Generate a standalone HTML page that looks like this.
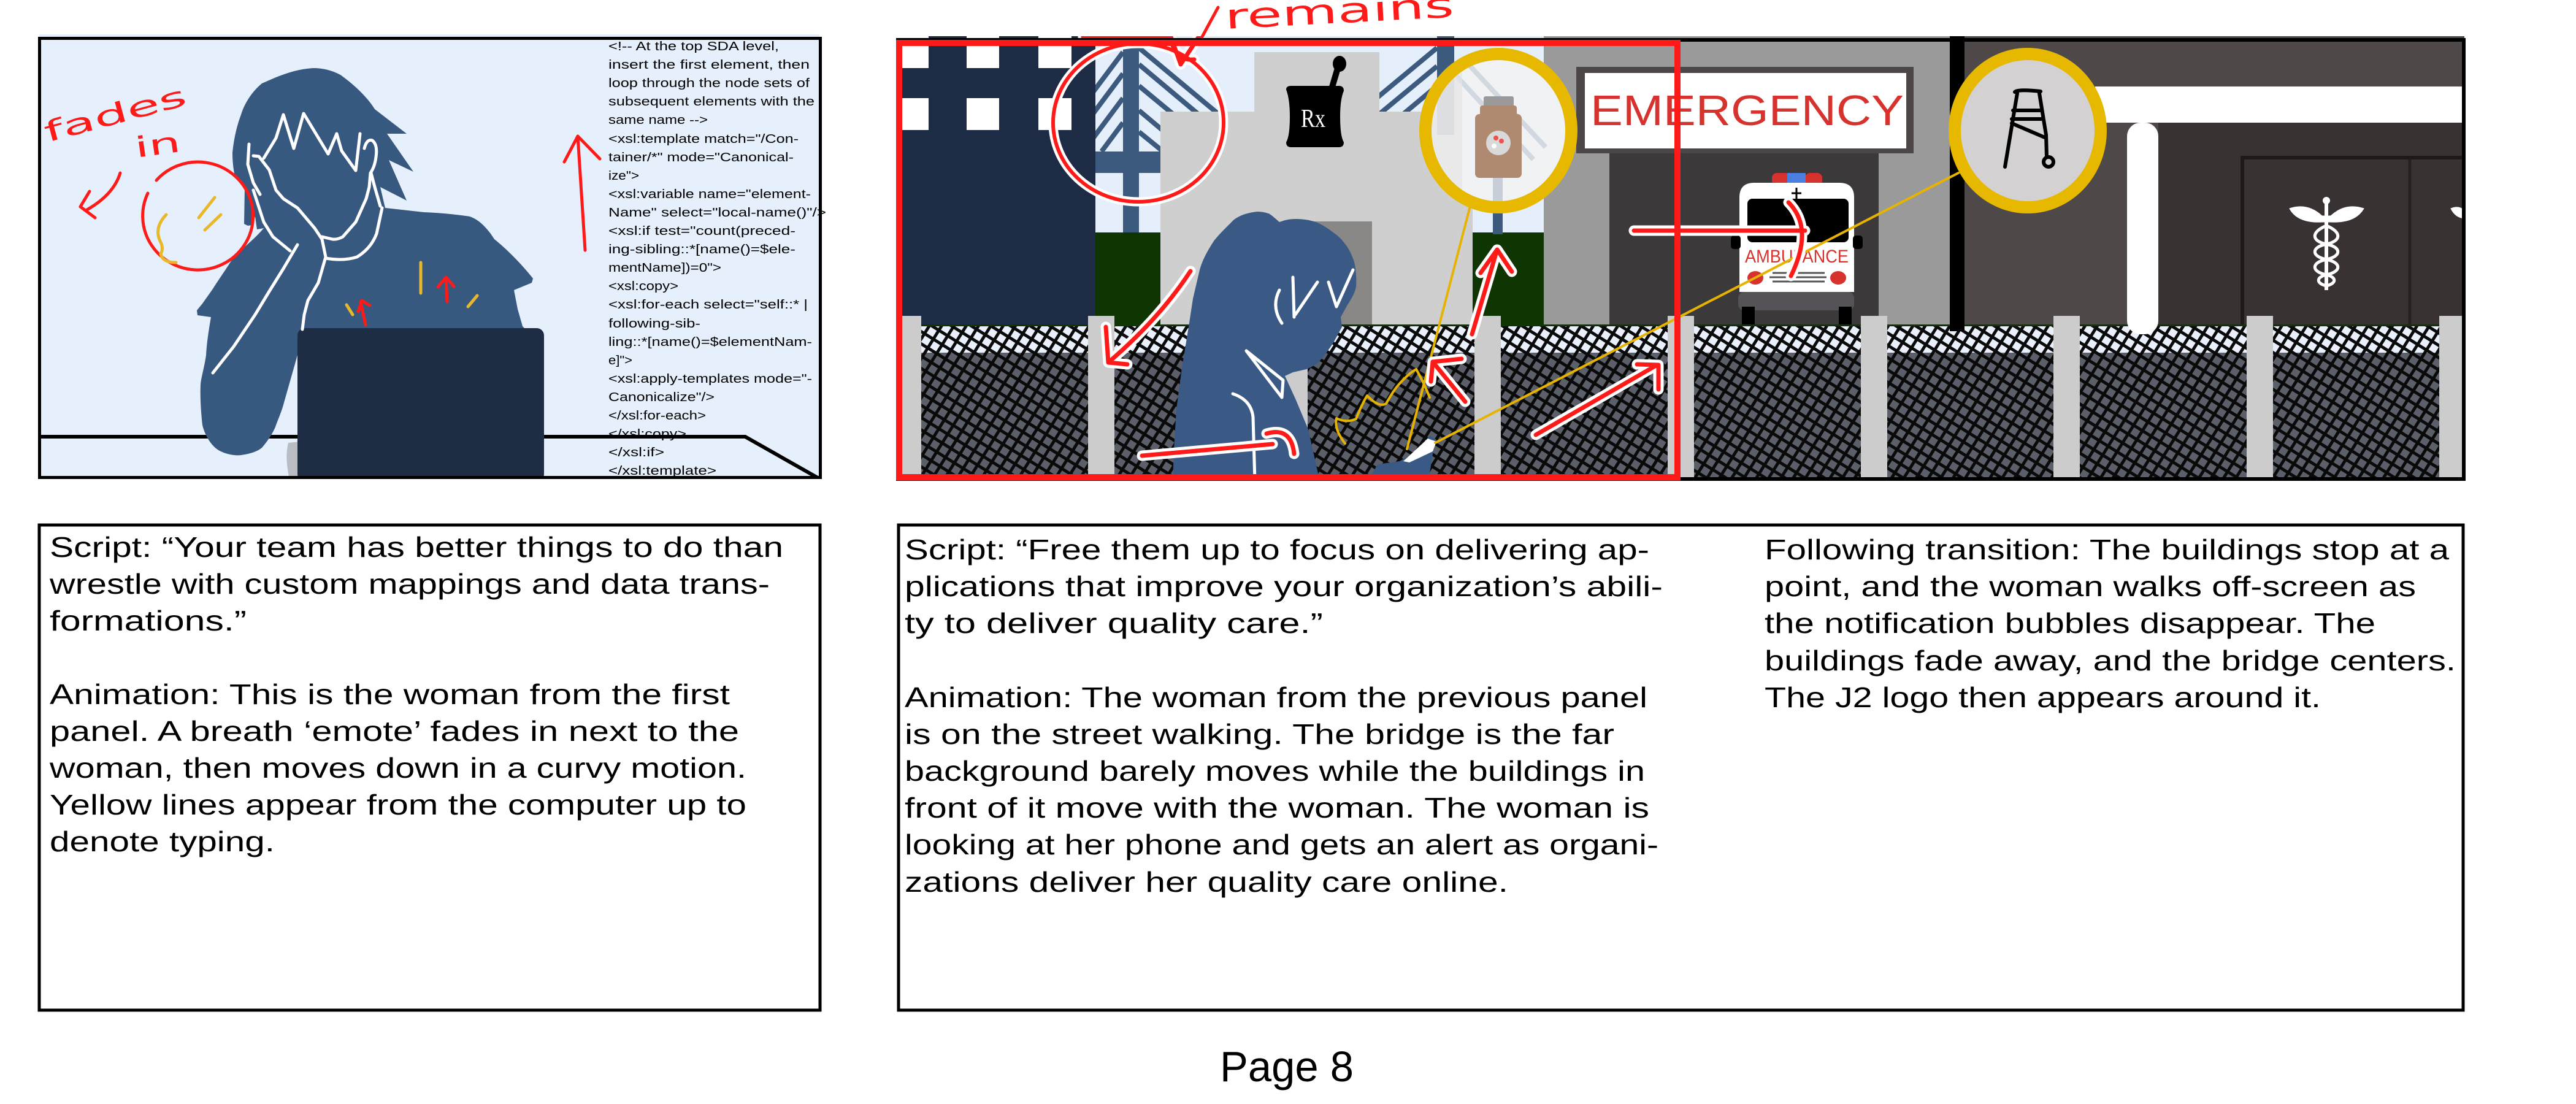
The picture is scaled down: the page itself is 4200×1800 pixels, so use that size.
<!DOCTYPE html>
<html><head><meta charset="utf-8"><style>
html,body{margin:0;padding:0;background:#fff;}
svg{display:block}
text{font-family:"Liberation Sans","DejaVu Sans",sans-serif;}
.d{font-size:46px;fill:#000}
.c{font-size:20px;fill:#000}
</style></head><body>
<svg width="4200" height="1800" viewBox="0 0 4200 1800" xmlns="http://www.w3.org/2000/svg">
<defs>
 <pattern id="hl" width="17" height="17" patternUnits="userSpaceOnUse" patternTransform="rotate(32)">
  <rect width="17" height="17" fill="#e9f0fc"/>
  <rect width="17" height="5" fill="#0a0a0a"/>
  <rect width="5" height="17" fill="#0a0a0a"/>
 </pattern>
 <pattern id="hd" width="17" height="17" patternUnits="userSpaceOnUse" patternTransform="rotate(32)">
  <rect width="17" height="17" fill="#5b5f69"/>
  <rect width="17" height="5" fill="#0a0a0a"/>
  <rect width="5" height="17" fill="#0a0a0a"/>
 </pattern>
 <clipPath id="cpL"><rect x="62" y="60" width="1277" height="720"/></clipPath>
 <clipPath id="cpR"><rect x="1461" y="59" width="2557" height="724"/></clipPath>
 <clipPath id="cpM"><ellipse cx="2443" cy="213" rx="119" ry="125"/></clipPath>
</defs>

<!-- ================= LEFT PANEL ================= -->
<rect x="64" y="56" width="1272" height="724" fill="#e6effc"/>
<g clip-path="url(#cpL)">
 <polyline points="62,712 1215,712 1335,780" fill="none" stroke="#000" stroke-width="6"/>
 <path d="M470,722 Q464,745 472,782 L490,782 L490,720 Z" fill="#b9bcc2"/>
 <path fill="#37587f" d="M511,111 C490,112 470,118 450,126 L427,136 C410,150 398,170 393,187 C386,205 381,228 379,249 C379,265 381,280 384,291 L399,305 L398,365 L404,368 L411,367 L416,353 L419,374 L430,372 C415,390 395,405 381,419 C368,440 357,455 347,471 L330,495 L321,506 L322,514 L344,517 C340,540 337,560 336,579 C333,600 328,615 327,627 C326,650 328,675 330,693 C334,710 345,728 358,735 C372,742 385,743 393,742 C408,740 420,736 427,730 C440,715 448,700 450,693 C455,680 460,668 462,660 L485,579 L490,560 L880,560 L852,532 L844,504 L838,473 L867,461 L869,454 C850,430 825,405 806,390 L800,381 C790,368 780,358 766,353 C740,349 715,347 691,346 L628,339 L620,305 L663,327 L634,261 L674,280 L631,218 L663,218 L611,178 C600,160 580,140 555,122 C540,114 525,111 511,111 Z"/>
 <rect x="485" y="535" width="402" height="250" rx="12" fill="#1e2c44"/>
 <g fill="none" stroke="#fff" stroke-width="5" stroke-linecap="round" stroke-linejoin="round">
  <path d="M430,258 L450,225 L462,187 L479,242 L495,185 L535,251 L549,218 L557,246 L580,278 L587,218"/>
  <path d="M594,242 Q598,226 607,229 Q616,236 613,256 Q611,272 604,282 L602,305 L597,324 L580,362 L559,386 Q550,391 542,390 L525,386"/>
  <path d="M406,235 L404,268 L413,298 L424,317"/>
  <path d="M413,254 L422,255 L439,277 L450,310 L462,324 L485,339 L513,372 L525,390 L531,419 L519,461 L502,490 L496,513 L493,537"/>
  <path d="M531,421 Q560,426 582,419 Q605,405 614,381 L620,353 L623,339"/>
  <path d="M413,310 L430,362 L445,386 L473,409"/>
  <path d="M485,399 L462,438 L439,475 L416,513 L381,565 L347,608"/>
  <path d="M605,282 L611,305 L620,336"/>
 </g>
 <!-- annotations -->
 <text x="77" y="232" font-size="46" fill="#ff1a1a" textLength="238" lengthAdjust="spacingAndGlyphs" transform="rotate(-15 77 232)" style="font-family:'DejaVu Sans',sans-serif">fades</text>
 <text x="222" y="257" font-size="46" fill="#ff1a1a" textLength="75" lengthAdjust="spacingAndGlyphs" transform="rotate(-8 222 257)" style="font-family:'DejaVu Sans',sans-serif">in</text>
 <g fill="none" stroke="#ff1a1a" stroke-width="5" stroke-linecap="round" stroke-linejoin="round">
  <path d="M196,282 Q185,318 140,343"/>
  <path d="M146,312 L131,337 L155,355"/>
  <path d="M255,294 A90 88 0 1 1 241,315"/>
  <path d="M596,530 L588,492"/><path d="M584,508 L590,490 L603,498"/>
  <path d="M729,492 L727,453"/><path d="M714,468 L727,452 L740,467"/>
  <path d="M954,408 L942,222"/><path d="M920,264 L942,222 L978,259"/>
 </g>
 <g fill="none" stroke="#e8b828" stroke-width="5" stroke-linecap="round">
  <path d="M271,350 Q250,372 262,395 Q267,405 262,414 Q265,428 287,428"/>
  <path d="M350,322 L324,355"/><path d="M360,350 L334,375"/>
  <path d="M686,428 L686,478"/><path d="M565,497 L575,513"/><path d="M778,482 L763,500"/>
 </g>
</g>
<g class="c">
 <text class="c" x="992" y="82" textLength="278" lengthAdjust="spacingAndGlyphs">&lt;!-- At the top SDA level,</text>
 <text class="c" x="992" y="112" textLength="328" lengthAdjust="spacingAndGlyphs">insert the first element, then</text>
 <text class="c" x="992" y="142" textLength="328" lengthAdjust="spacingAndGlyphs">loop through the node sets of</text>
 <text class="c" x="992" y="172" textLength="336" lengthAdjust="spacingAndGlyphs">subsequent elements with the</text>
 <text class="c" x="992" y="202" textLength="162" lengthAdjust="spacingAndGlyphs">same name --&gt;</text>
 <text class="c" x="992" y="233" textLength="310" lengthAdjust="spacingAndGlyphs">&lt;xsl:template match="/Con-</text>
 <text class="c" x="992" y="263" textLength="302" lengthAdjust="spacingAndGlyphs">tainer/*" mode="Canonical-</text>
 <text class="c" x="992" y="293" textLength="50" lengthAdjust="spacingAndGlyphs">ize"&gt;</text>
 <text class="c" x="992" y="323" textLength="330" lengthAdjust="spacingAndGlyphs">&lt;xsl:variable name="element-</text>
 <text class="c" x="992" y="353" textLength="355" lengthAdjust="spacingAndGlyphs">Name" select="local-name()"/&gt;</text>
 <text class="c" x="992" y="383" textLength="305" lengthAdjust="spacingAndGlyphs">&lt;xsl:if test="count(preced-</text>
 <text class="c" x="992" y="413" textLength="305" lengthAdjust="spacingAndGlyphs">ing-sibling::*[name()=$ele-</text>
 <text class="c" x="992" y="443" textLength="184" lengthAdjust="spacingAndGlyphs">mentName])=0"&gt;</text>
 <text class="c" x="992" y="473" textLength="114" lengthAdjust="spacingAndGlyphs">&lt;xsl:copy&gt;</text>
 <text class="c" x="992" y="503" textLength="325" lengthAdjust="spacingAndGlyphs">&lt;xsl:for-each select="self::* |</text>
 <text class="c" x="992" y="534" textLength="150" lengthAdjust="spacingAndGlyphs">following-sib-</text>
 <text class="c" x="992" y="564" textLength="332" lengthAdjust="spacingAndGlyphs">ling::*[name()=$elementNam-</text>
 <text class="c" x="992" y="594" textLength="39" lengthAdjust="spacingAndGlyphs">e]"&gt;</text>
 <text class="c" x="992" y="624" textLength="332" lengthAdjust="spacingAndGlyphs">&lt;xsl:apply-templates mode="-</text>
 <text class="c" x="992" y="654" textLength="173" lengthAdjust="spacingAndGlyphs">Canonicalize"/&gt;</text>
 <text class="c" x="992" y="684" textLength="159" lengthAdjust="spacingAndGlyphs">&lt;/xsl:for-each&gt;</text>
 <text class="c" x="992" y="714" textLength="127" lengthAdjust="spacingAndGlyphs">&lt;/xsl:copy&gt;</text>
 <text class="c" x="992" y="744" textLength="91" lengthAdjust="spacingAndGlyphs">&lt;/xsl:if&gt;</text>
 <text class="c" x="992" y="774" textLength="176" lengthAdjust="spacingAndGlyphs">&lt;/xsl:template&gt;</text>
</g>
<rect x="64.5" y="62.5" width="1273" height="716" fill="none" stroke="#000" stroke-width="5"/>

<!-- ================= RIGHT PANEL ================= -->
<g clip-path="url(#cpR)">
 <rect x="1461" y="59" width="2557" height="724" fill="#e5eefb"/>
 <!-- bridge -->
 <g stroke="#3b5a7e" stroke-width="8">
  <line x1="1831" y1="85" x2="1741" y2="205"/>
  <line x1="1831" y1="120" x2="1751" y2="227"/>
  <line x1="1831" y1="160" x2="1766" y2="247"/>
  <line x1="1831" y1="200" x2="1796" y2="247"/>
  <line x1="1857" y1="78" x2="2060" y2="247"/>
  <line x1="1857" y1="105" x2="2030" y2="250"/>
  <line x1="1857" y1="140" x2="1990" y2="250"/>
  <line x1="1857" y1="180" x2="1940" y2="250"/>
  <line x1="1857" y1="215" x2="1900" y2="250"/>
  <line x1="2343" y1="78" x2="2200" y2="197"/>
  <line x1="2343" y1="108" x2="2220" y2="210"/>
  <line x1="2343" y1="140" x2="2240" y2="226"/>
  <line x1="2343" y1="172" x2="2280" y2="225"/>
 </g>
 <rect x="1831" y="59" width="26" height="320" fill="#3b5a7e"/>
 <rect x="1786" y="247" width="110" height="35" fill="#3b5a7e"/>
 <rect x="2343" y="59" width="28" height="130" fill="#3b5a7e"/>
 <!-- navy building -->
 <rect x="1461" y="59" width="325" height="475" fill="#1e2b45"/>
 <g fill="#fff">
  <rect x="1461" y="59" width="53" height="52"/><rect x="1576" y="59" width="53" height="52"/><rect x="1693" y="59" width="54" height="52"/>
  <rect x="1461" y="160" width="53" height="52"/><rect x="1576" y="160" width="53" height="52"/><rect x="1693" y="160" width="54" height="52"/>
 </g>
 <!-- pharmacy -->
 <rect x="2045" y="85" width="204" height="100" fill="#cfcfcf"/>
 <rect x="1892" y="182" width="509" height="350" fill="#cfcfcf"/>
 <rect x="2137" y="361" width="100" height="171" fill="#8a8887"/>
 <path d="M2097,146 Q2097,140 2105,140 L2183,140 Q2191,140 2191,148 Q2185,162 2185,190 Q2185,222 2191,232 Q2191,240 2183,240 L2105,240 Q2097,240 2097,232 Q2103,222 2103,190 Q2103,162 2097,146 Z" fill="#000"/>
 <line x1="2171" y1="145" x2="2182" y2="108" stroke="#000" stroke-width="10"/>
 <ellipse cx="2184" cy="104" rx="11" ry="13" fill="#000"/>
 <text x="2121" y="207" font-size="42" fill="#fff" textLength="40" lengthAdjust="spacingAndGlyphs" style="font-family:'Liberation Serif',serif">Rx</text>
 <rect x="1786" y="379" width="106" height="153" fill="#0e3502"/>
 <rect x="2401" y="379" width="116" height="153" fill="#0e3502"/>
 <rect x="2434" y="330" width="16" height="52" fill="#3b5a7e"/>
 <!-- emergency building -->
 <rect x="2517" y="59" width="662" height="473" fill="#9a9a9a"/>
 <rect x="2570" y="109" width="550" height="141" fill="#4d4646"/>
 <rect x="2584" y="119" width="524" height="123" fill="#fff"/>
 <text x="2593" y="204" font-size="70" fill="#d7332e" textLength="511" lengthAdjust="spacingAndGlyphs">EMERGENCY</text>
 <rect x="2624" y="250" width="439" height="282" fill="#3b3939"/>
 <!-- ambulance -->
 <rect x="2889" y="282" width="30" height="20" rx="8" fill="#d7332e"/>
 <rect x="2943" y="282" width="28" height="20" rx="8" fill="#d7332e"/>
 <rect x="2914" y="282" width="30" height="20" fill="#4a7fe0"/>
 <path d="M2836,476 L2836,322 Q2836,298 2860,298 L2999,298 Q3023,298 3023,322 L3023,476 Z" fill="#fff"/>
 <rect x="2849" y="324" width="165" height="71" rx="8" fill="#000"/>
 <path d="M2929,306 V324 M2921,315 H2937" stroke="#000" stroke-width="3"/>
 <rect x="2822" y="384" width="16" height="22" rx="5" fill="#000"/>
 <rect x="3021" y="384" width="16" height="22" rx="5" fill="#000"/>
 <text x="2845" y="428" font-size="30" fill="#d7332e" textLength="169" lengthAdjust="spacingAndGlyphs">AMBULANCE</text>
 <ellipse cx="2862" cy="453" rx="13" ry="11" fill="#d7332e"/>
 <ellipse cx="2997" cy="453" rx="13" ry="11" fill="#d7332e"/>
 <path d="M2890,445 H2975 M2885,452 H2978 M2890,459 H2975" stroke="#555" stroke-width="3"/>
 <rect x="2834" y="476" width="189" height="30" rx="10" fill="#555357"/>
 <rect x="2840" y="500" width="21" height="30" fill="#000"/>
 <rect x="2998" y="500" width="21" height="30" fill="#000"/>
 <!-- right building -->
 <rect x="3203" y="59" width="815" height="473" fill="#4e4848"/>
 <rect x="3416" y="141" width="602" height="59" fill="#fff"/>
 <rect x="3519" y="200" width="499" height="332" fill="#383232"/>
 <path d="M3656,532 V257 H4018" stroke="#1e1a1a" stroke-width="6" fill="none"/>
 <line x1="3929" y1="260" x2="3929" y2="532" stroke="#262121" stroke-width="5"/>
 <g fill="#fff" stroke="#fff">
  <path d="M3733,340 Q3762,330 3786,352 L3800,352 Q3824,330 3854,340 Q3840,364 3800,362 L3786,362 Q3746,364 3733,340 Z" stroke-width="1"/>
  <rect x="3790" y="325" width="6" height="148" stroke-width="0"/>
  <circle cx="3793" cy="327" r="6" stroke-width="0"/>
  <path d="M3793,368 C3768,378 3768,393 3793,398 C3818,403 3818,418 3793,423 C3768,428 3768,443 3793,448 C3810,452 3810,462 3793,466" fill="none" stroke-width="5"/>
  <path d="M3793,368 C3818,378 3818,393 3793,398 C3768,403 3768,418 3793,423 C3818,428 3818,443 3793,448 C3776,452 3776,462 3793,466" fill="none" stroke-width="5"/>
  <path d="M3996,340 Q4010,334 4020,345 L4020,356 Q4004,356 3996,340 Z" stroke-width="1"/>
 </g>
 <!-- ground -->
 <rect x="1461" y="529" width="2557" height="4" fill="#0e3502"/>
 <rect x="1461" y="532" width="2557" height="43" fill="url(#hl)"/>
 <rect x="1461" y="575" width="2557" height="208" fill="url(#hd)"/>
 <rect x="3179" y="59" width="24" height="481" fill="#000"/>
 <rect x="3468" y="200" width="51" height="345" rx="22" fill="#fff"/>
 <g fill="#cccccc">
  <rect x="1459" y="515" width="43" height="268"/>
  <rect x="1774" y="515" width="43" height="268"/>
  <rect x="2089" y="515" width="43" height="268"/>
  <rect x="2404" y="515" width="43" height="268"/>
  <rect x="2719" y="515" width="43" height="268"/>
  <rect x="3034" y="515" width="43" height="268"/>
  <rect x="3348" y="515" width="43" height="268"/>
  <rect x="3663" y="515" width="43" height="268"/>
  <rect x="3977" y="515" width="43" height="268"/>
 </g>
 <!-- woman -->
 <path fill="#3a5a85" d="M2050,345 C2030,347 2015,354 2008,362 C1995,375 1985,385 1979,393 C1968,410 1960,425 1956,440 L1945,487 L1938,533 L1927,600 L1918,667 L1914,733 L1912,785 L2152,785 L2133,700 L2112,650 L2095,613 L2108,607 L2130,602 C2140,598 2148,593 2153,587 C2163,575 2170,565 2175,557 L2188,533 L2186,517 L2197,497 C2205,485 2210,475 2211,467 C2212,450 2210,435 2208,427 C2204,415 2200,408 2197,403 C2190,393 2183,385 2175,380 C2165,372 2155,366 2148,363 C2135,358 2122,357 2112,357 C2100,357 2092,360 2086,362 C2078,355 2070,348 2068,348 C2062,346 2056,345 2050,345 Z"/>
 <path fill="#3a5a85" d="M2230,785 L2246,757 L2282,752 L2310,735 L2331,710 L2342,717 L2336,740 L2329,785 Z"/>
 <path fill="#fff" d="M2288,752 L2328,715 L2342,720 L2336,736 L2298,754 Z"/>
 <g fill="none" stroke="#fff" stroke-width="5" stroke-linecap="round" stroke-linejoin="round">
  <path d="M2090,527 Q2072,500 2086,473"/>
  <path d="M2108,452 L2110,517"/>
  <path d="M2112,513 L2148,460"/>
  <path d="M2166,460 L2179,500 L2206,440"/>
  <path d="M2032,572 L2092,620 L2090,648 Z"/>
  <path d="M2010,642 Q2040,652 2043,680 L2046,785"/>
 </g>
 <!-- gold circles -->
 <ellipse cx="2443" cy="213" rx="119" ry="125" fill="#f1f2f4"/>
 <g clip-path="url(#cpM)" stroke="#d2d8e0" stroke-width="8">
  <line x1="2371" y1="80" x2="2520" y2="240"/>
  <line x1="2371" y1="120" x2="2500" y2="260"/>
  <line x1="2343" y1="100" x2="2250" y2="200"/>
  <rect x="2343" y="70" width="28" height="150" fill="#c8ced8" stroke="none"/>
  <rect x="2434" y="290" width="16" height="60" fill="#c8ced8" stroke="none"/>
  <rect x="2324" y="80" width="60" height="270" fill="#e6e6e6" stroke="none" opacity="0.7"/>
 </g>
 <rect x="2419" y="157" width="49" height="18" rx="3" fill="#9a9a9a"/>
 <rect x="2405" y="186" width="76" height="104" rx="7" fill="#b08a70"/>
 <rect x="2413" y="172" width="60" height="18" rx="4" fill="#b08a70"/>
 <circle cx="2443" cy="233" r="20" fill="#d9d9d9"/>
 <circle cx="2439" cy="225" r="4" fill="#f05050"/>
 <circle cx="2448" cy="230" r="4" fill="#f05050"/>
 <circle cx="2436" cy="238" r="4" fill="#fff"/>
 <ellipse cx="2443" cy="213" rx="119" ry="125" fill="none" stroke="#e6b800" stroke-width="20"/>
 <ellipse cx="3306" cy="213" rx="119" ry="125" fill="#d3d1d2" stroke="#e6b800" stroke-width="20"/>
 <g fill="none" stroke="#000" stroke-width="6" stroke-linecap="round">
  <path d="M3285,150 Q3290,145 3327,149"/>
  <path d="M3289,152 L3269,272"/>
  <path d="M3325,152 L3336,220 L3337,256"/>
  <path d="M3282,180 L3327,180 M3280,194 L3328,194 M3280,201 L3336,225"/>
  <circle cx="3340" cy="264" r="8"/>
 </g>
 <!-- yellow lines -->
 <g fill="none" stroke="#e6b400" stroke-width="4" stroke-linecap="round" stroke-linejoin="round">
  <path d="M2396,340 L2294,732"/>
  <path d="M2193,723 Q2175,700 2179,682 Q2195,690 2211,683 Q2220,660 2229,645 Q2248,665 2260,658 Q2270,640 2278,630 Q2295,610 2309,602 Q2322,625 2331,648"/>
  <path d="M2340,722 L3193,282"/>
 </g>
 <!-- red annotations with white outline -->
 <g fill="none" stroke="#fff" stroke-width="17" stroke-linecap="round" stroke-linejoin="round">
  <ellipse cx="1856" cy="200" rx="139" ry="129" stroke-width="15"/>
  <path d="M1941,442 Q1890,520 1807,591 M1803,533 L1807,591 L1838,594"/>
  <path d="M1862,743 L2075,724 M2065,707 Q2105,695 2110,740"/>
  <path d="M2389,655 L2336,590 M2333,622 L2336,590 L2383,585"/>
  <path d="M2400,545 L2441,407 M2414,445 L2441,407 L2465,443"/>
  <path d="M2504,709 L2700,596 M2669,594 L2704,595 L2704,635"/>
  <path d="M2664,376 L2943,376 M2916,330 Q2958,372 2920,450"/>
  <path d="M1766,60 L1909,60 L1925,105 L1986,12 M1909,62 Q1915,100 1947,97"/>
 </g>
 <g fill="none" stroke="#ff1a1a" stroke-width="7" stroke-linecap="round" stroke-linejoin="round">
  <ellipse cx="1856" cy="200" rx="139" ry="129" stroke-width="6"/>
  <path d="M1941,442 Q1890,520 1807,591 M1803,533 L1807,591 L1838,594"/>
  <path d="M1862,743 L2075,724 M2065,707 Q2105,695 2110,740"/>
  <path d="M2389,655 L2336,590 M2333,622 L2336,590 L2383,585"/>
  <path d="M2400,545 L2441,407 M2414,445 L2441,407 L2465,443"/>
  <path d="M2504,709 L2700,596 M2669,594 L2704,595 L2704,635"/>
  <path d="M2664,376 L2943,376 M2916,330 Q2958,372 2920,450"/>
  <path d="M1766,60 L1909,60 L1925,105 L1986,12 M1909,62 Q1915,100 1947,97"/>
 </g>
</g>
<rect x="1464" y="65" width="2553" height="716" fill="none" stroke="#000" stroke-width="6"/>
<rect x="1466" y="70" width="1269" height="708" fill="none" stroke="#ff1a1a" stroke-width="10"/>
<path d="M1986,12 L1960,60" stroke="#ff1a1a" stroke-width="5" stroke-linecap="round"/>
<text x="1998" y="47" font-size="56" fill="#ff1a1a" textLength="374" lengthAdjust="spacingAndGlyphs" transform="rotate(-3 1998 47)" style="font-family:'DejaVu Sans',sans-serif">remains</text>

<!-- ================= TEXT BOXES ================= -->
<rect x="64" y="856" width="1273" height="791" fill="none" stroke="#000" stroke-width="5"/>
<rect x="1465" y="856" width="2551" height="791" fill="none" stroke="#000" stroke-width="5"/>

<text class="d" x="81" y="908" textLength="1196" lengthAdjust="spacingAndGlyphs">Script: “Your team has better things to do than</text>
<text class="d" x="81" y="968" textLength="1174" lengthAdjust="spacingAndGlyphs">wrestle with custom mappings and data trans-</text>
<text class="d" x="81" y="1028" textLength="321" lengthAdjust="spacingAndGlyphs">formations.”</text>
<text class="d" x="81" y="1148" textLength="1109" lengthAdjust="spacingAndGlyphs">Animation: This is the woman from the first</text>
<text class="d" x="81" y="1208" textLength="1124" lengthAdjust="spacingAndGlyphs">panel. A breath ‘emote’ fades in next to the</text>
<text class="d" x="81" y="1268" textLength="1136" lengthAdjust="spacingAndGlyphs">woman, then moves down in a curvy motion.</text>
<text class="d" x="81" y="1328" textLength="1136" lengthAdjust="spacingAndGlyphs">Yellow lines appear from the computer up to</text>
<text class="d" x="81" y="1388" textLength="367" lengthAdjust="spacingAndGlyphs">denote typing.</text>

<text class="d" x="1475" y="912" textLength="1214" lengthAdjust="spacingAndGlyphs">Script: “Free them up to focus on delivering ap-</text>
<text class="d" x="1475" y="972" textLength="1236" lengthAdjust="spacingAndGlyphs">plications that improve your organization’s abili-</text>
<text class="d" x="1475" y="1032" textLength="682" lengthAdjust="spacingAndGlyphs">ty to deliver quality care.”</text>
<text class="d" x="1475" y="1153" textLength="1211" lengthAdjust="spacingAndGlyphs">Animation: The woman from the previous panel</text>
<text class="d" x="1475" y="1213" textLength="1157" lengthAdjust="spacingAndGlyphs">is on the street walking. The bridge is the far</text>
<text class="d" x="1475" y="1273" textLength="1207" lengthAdjust="spacingAndGlyphs">background barely moves while the buildings in</text>
<text class="d" x="1475" y="1333" textLength="1214" lengthAdjust="spacingAndGlyphs">front of it move with the woman. The woman is</text>
<text class="d" x="1475" y="1393" textLength="1229" lengthAdjust="spacingAndGlyphs">looking at her phone and gets an alert as organi-</text>
<text class="d" x="1475" y="1454" textLength="984" lengthAdjust="spacingAndGlyphs">zations deliver her quality care online.</text>

<text class="d" x="2877" y="912" textLength="1116" lengthAdjust="spacingAndGlyphs">Following transition: The buildings stop at a</text>
<text class="d" x="2877" y="972" textLength="1062" lengthAdjust="spacingAndGlyphs">point, and the woman walks off-screen as</text>
<text class="d" x="2877" y="1032" textLength="996" lengthAdjust="spacingAndGlyphs">the notification bubbles disappear. The</text>
<text class="d" x="2877" y="1093" textLength="1127" lengthAdjust="spacingAndGlyphs">buildings fade away, and the bridge centers.</text>
<text class="d" x="2877" y="1153" textLength="907" lengthAdjust="spacingAndGlyphs">The J2 logo then appears around it.</text>

<text x="1989" y="1763" font-size="70" fill="#000" textLength="218" lengthAdjust="spacingAndGlyphs">Page 8</text>
</svg>
</body></html>
